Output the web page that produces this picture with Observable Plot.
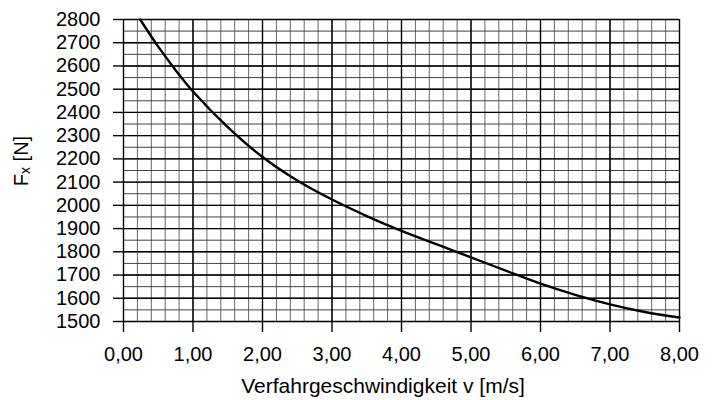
<!DOCTYPE html>
<html>
<head>
<meta charset="utf-8">
<script src="https://cdn.jsdelivr.net/npm/d3@7"></script>
<script src="https://cdn.jsdelivr.net/npm/@observablehq/plot@0.6"></script>
<style>
  html, body { margin: 0; padding: 0; background: #fff; }
</style>
</head>
<body>
<div id="chart"></div>
<script>
// Curve data
const speed = [0.24, 0.5, 0.75, 1.0, 1.5, 2.0, 2.5, 3.0, 3.5, 4.0, 4.5, 5.0, 5.5, 6.0, 6.5, 7.0, 7.5, 8.0];
const force = [2800, 2683, 2582, 2490, 2337, 2208, 2107, 2025, 1954, 1890, 1833, 1776, 1719, 1663, 1615, 1574, 1541, 1517];

// Axis ticks
const xTicks = [0, 1, 2, 3, 4, 5, 6, 7, 8];
const yTicks = [1500, 1600, 1700, 1800, 1900, 2000, 2100, 2200, 2300, 2400, 2500, 2600, 2700, 2800];
const xMinor = d3.range(0, 8.0001, 0.2).map(d => +d.toFixed(2));
const yMinor = d3.range(1500, 2800.1, 50);

const xLabel = "Verfahrgeschwindigkeit v [m/s]";

const data = speed.map((v, i) => ({v, F: force[i]}));
const fmt = d => d.toFixed(2).replace(".", ",");
const FONT = "Liberation Sans, Arial, sans-serif";

const plot = Plot.plot({
  width: 716,
  height: 400,
  marginLeft: 123,
  marginRight: 37,
  marginTop: 19,
  marginBottom: 79,
  style: {fontFamily: FONT, fontSize: "20px", color: "#000", background: "#fff"},
  x: {domain: [0, 8]},
  y: {domain: [1500, 2800]},
  marks: [
    Plot.ruleX(xMinor, {stroke: "#666", strokeWidth: 1}),
    Plot.ruleY(yMinor, {stroke: "#444", strokeWidth: 1}),
    Plot.ruleX(xTicks, {stroke: "#000", strokeWidth: 1.4}),
    Plot.ruleY(yTicks, {stroke: "#000", strokeWidth: 1.4}),
    Plot.axisX(xTicks, {tickFormat: fmt, tickSize: 11, tickPadding: 14, fontSize: 20, stroke: "#000", strokeWidth: 1.4, label: null}),
    Plot.axisY(yTicks, {tickFormat: d => String(d), tickSize: 10, tickPadding: 13, fontSize: 20, stroke: "#000", strokeWidth: 1.4, label: null}),
    Plot.line(data, {x: "v", y: "F", curve: "catmull-rom", stroke: "#000", strokeWidth: 2.4})
  ]
});

const svg = d3.select(plot);
// x axis title
svg.append("text")
  .attr("x", 383)
  .attr("y", 393)
  .attr("text-anchor", "middle")
  .attr("font-family", FONT)
  .attr("font-size", 21)
  .attr("fill", "#000")
  .text(xLabel);
// y axis title with subscript
const t = svg.append("text")
  .attr("transform", "translate(28,161) rotate(-90)")
  .attr("text-anchor", "middle")
  .attr("font-family", FONT)
  .attr("font-size", 20)
  .attr("fill", "#000");
t.append("tspan").text("F");
t.append("tspan").attr("font-size", 14).attr("dy", 2).text("x");
t.append("tspan").attr("dy", -2).text(" [N]");

document.getElementById("chart").appendChild(plot);
</script>
</body>
</html>
